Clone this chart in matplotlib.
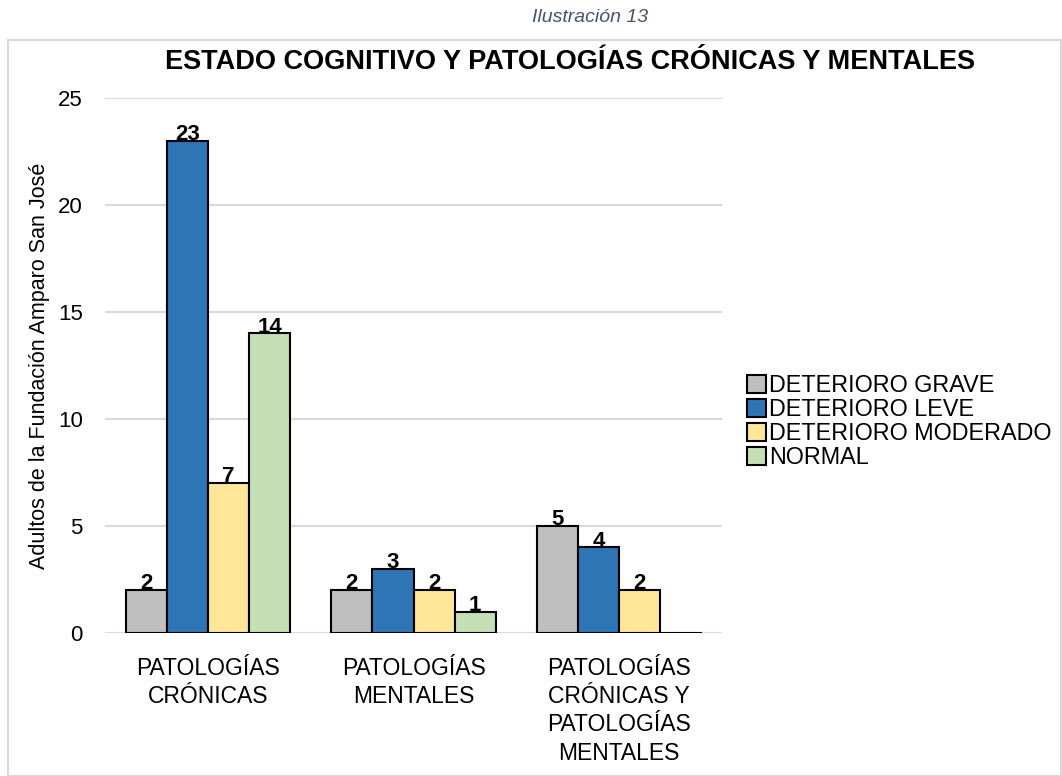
import numpy as np
import matplotlib
matplotlib.use("Agg")
import matplotlib.pyplot as plt
from matplotlib.patches import Rectangle

categories = ["PATOLOGÍAS\nCRÓNICAS", "PATOLOGÍAS\nMENTALES",
              "PATOLOGÍAS\nCRÓNICAS Y\nPATOLOGÍAS\nMENTALES"]
series = ["DETERIORO GRAVE", "DETERIORO LEVE", "DETERIORO MODERADO", "NORMAL"]
grave = [2, 2, 5]
leve = [23, 3, 4]
moderado = [7, 2, 2]
normal = [14, 1, 0]
colors = ["#BFBFBF", "#2E75B6", "#FFE699", "#C5E0B4"]

plt.rcParams['font.family'] = ['Liberation Sans', 'DejaVu Sans']

fig = plt.figure(figsize=(10.62, 7.76), dpi=100)
ax = fig.add_axes([0.0989, 0.1843, 0.5811, 0.6894])

# chart border
fig.add_artist(Rectangle((8 / 1062, 0), 1 - 8 / 1062 - 0.001, 1 - 40 / 776,
                         transform=fig.transFigure, fill=False,
                         edgecolor="#D9D9D9", linewidth=1.5))

x = np.arange(len(categories))
w = 0.2
for i, (name, vals) in enumerate(zip(series, [grave, leve, moderado, normal])):
    pos = x + (i - 1.5) * w
    ax.bar(pos, vals, w, color=colors[i], edgecolor="black", linewidth=1.5,
           label=name, zorder=3)
    for p, v in zip(pos, vals):
        if v > 0:
            ax.text(p, v - 0.2, str(v), ha="center", va="bottom",
                    fontsize=16, fontweight="bold", zorder=4)

ax.set_xlim(-0.5, 2.5)
ax.set_ylim(0, 25)
ax.set_yticks([0, 5, 10, 15, 20, 25])
ax.set_xticks(x)
ax.set_xticklabels(categories, fontsize=16.5, linespacing=1.3)
ax.tick_params(axis="y", length=0, labelsize=16, pad=16)
ax.tick_params(axis="x", length=0, pad=17)
for s in ax.spines.values():
    s.set_visible(False)
ax.grid(axis="y", color="#D9D9D9", linewidth=1.5, zorder=0)
ax.set_axisbelow(True)

ax.set_ylabel("Adultos de la Fundación Amparo San José", fontsize=15.5, labelpad=6)

fig.text(0.537, 1 - 62 / 776, "ESTADO COGNITIVO Y PATOLOGÍAS CRÓNICAS Y MENTALES",
         ha="center", va="center", fontsize=19.5, fontweight="bold")
fig.text(0.556, 1 - 18 / 776, "Ilustración 13", ha="center", va="center",
         fontsize=14, style="italic", color="#44546A")

ax.legend(loc="center left", bbox_to_anchor=(1.04, 0.395), frameon=False,
          fontsize=16.8, handlelength=0.8, handleheight=0.8, handletextpad=0.15,
          labelspacing=0.05, borderaxespad=0, borderpad=0)
leg = ax.get_legend()
for h in leg.legend_handles:
    h.set_edgecolor("black")
    h.set_linewidth(1.5)

fig.savefig("out.png", dpi=100)
